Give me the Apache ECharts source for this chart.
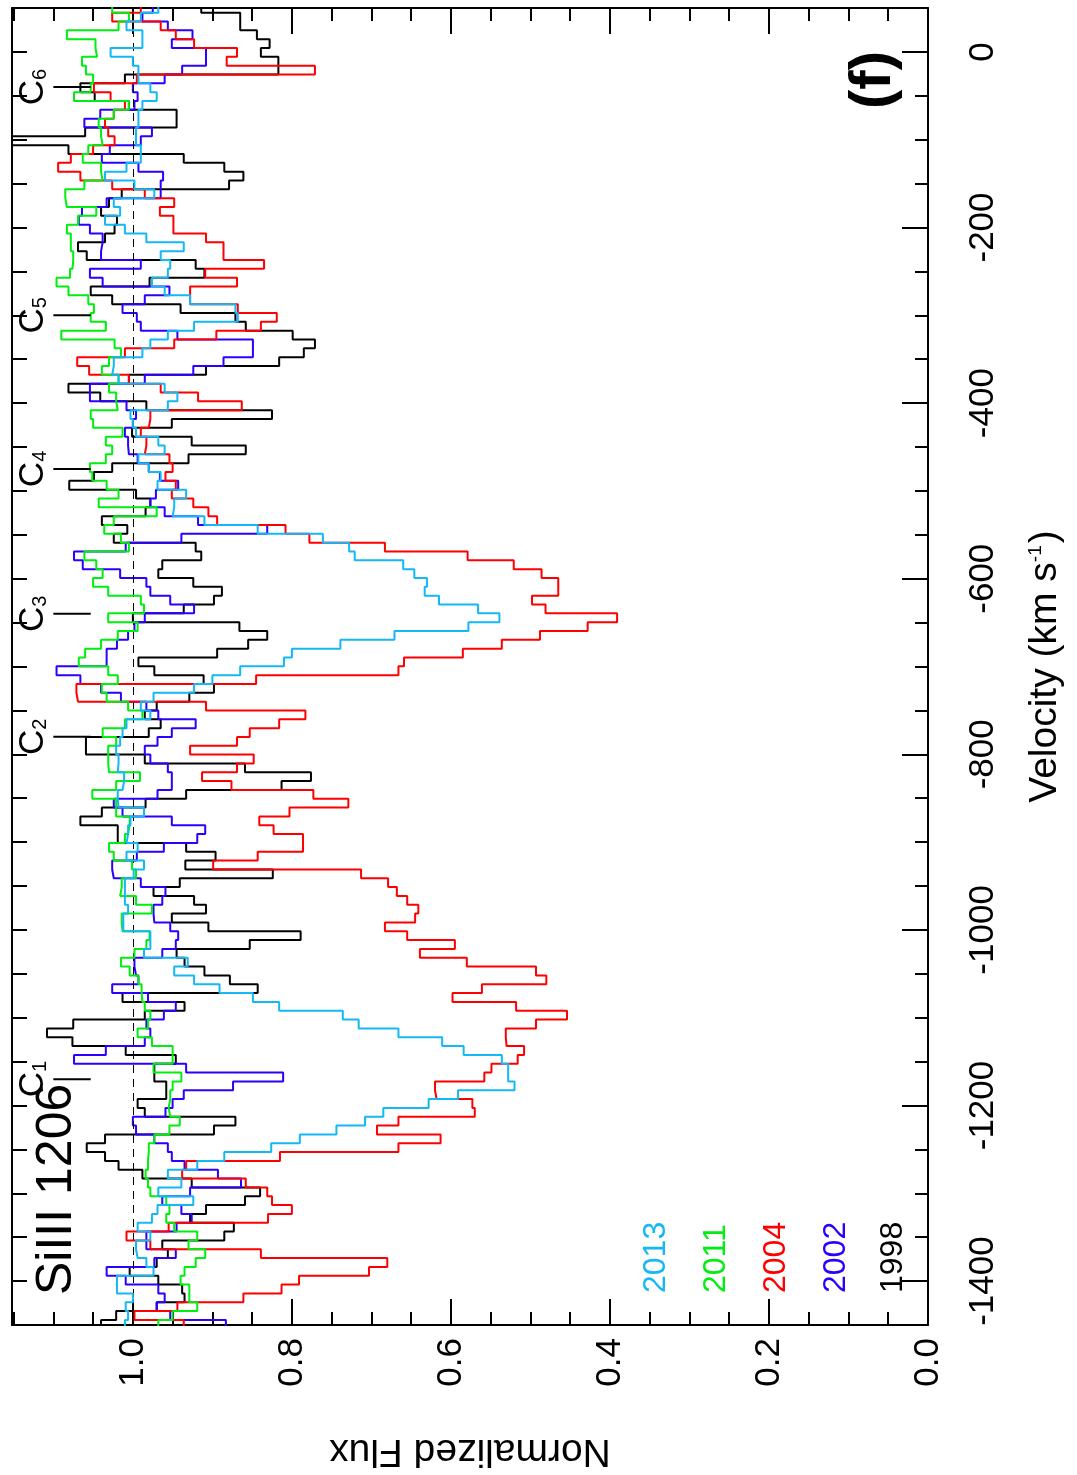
<!DOCTYPE html>
<html>
<head>
<meta charset="utf-8">
<script src="https://cdn.jsdelivr.net/npm/echarts@6/dist/echarts.min.js"></script>
<style>
  html, body { margin: 0; padding: 0; background: #ffffff; }
  #chart { width: 1077px; height: 1475px; }
</style>
</head>
<body>
<div id="chart"></div>
<script>
// Si III 1206 normalized flux per epoch, 10 km/s bins ordered from +50 km/s downward
const flux1998 = [
  0.914,0.865,0.865,0.844,0.828,0.839,0.817,0.817,1.010,1.066,1.048,1.005,0.945,0.945,1.060,1.170,1.081,0.936,0.885,0.861,0.879,1.014,1.030,1.040,1.020,
  1.023,1.035,1.069,1.058,0.921,0.910,0.979,1.053,1.026,0.940,0.871,0.858,0.799,0.771,0.785,0.816,0.908,1.005,1.081,1.041,0.983,0.825,0.951,1.001,0.926,
  0.858,0.930,1.026,1.049,1.080,0.996,0.978,0.984,1.039,1.007,1.024,0.921,0.914,0.963,0.968,0.924,0.888,0.898,0.936,1.000,0.866,0.831,0.855,0.894,0.993,
  0.973,0.911,0.898,0.929,0.970,0.985,0.965,0.980,1.059,1.059,0.985,0.859,0.776,0.813,0.933,0.984,1.039,1.066,1.019,1.019,0.933,0.896,0.934,0.824,0.941,
  0.974,0.923,0.908,0.951,0.905,0.789,0.853,0.945,0.935,0.910,0.878,0.843,1.013,0.935,0.985,1.075,1.108,1.076,1.009,0.946,0.973,0.973,0.958,0.958,0.994,
  0.985,0.871,0.898,1.035,1.058,1.035,1.018,0.988,0.926,0.840,0.859,0.908,0.928,0.873,0.885,0.963,0.956,0.970,1.004,0.968,0.938,0.935,0.970,1.021,1.040
];
const flux2002 = [
  0.975,0.988,0.956,0.925,0.951,0.908,0.908,0.938,0.960,1.000,0.994,0.998,1.041,1.061,0.976,0.990,1.029,1.039,0.993,0.962,0.965,0.965,1.033,1.064,1.068,
  1.054,1.038,1.040,1.040,0.990,1.054,1.038,0.954,0.985,1.013,0.995,0.990,0.944,0.849,0.849,0.886,0.924,0.985,1.054,1.054,1.008,0.996,1.000,1.010,1.006,
  1.005,0.994,0.980,0.966,0.943,0.971,0.978,0.960,0.918,0.831,0.939,1.009,1.074,1.063,1.016,0.983,0.978,0.953,0.923,0.985,0.998,1.006,1.020,1.033,1.033,
  1.096,1.066,1.040,1.015,0.983,0.968,0.921,0.951,0.969,0.985,0.978,0.956,0.951,0.951,0.969,1.024,1.013,0.951,0.909,0.919,0.961,0.995,1.026,1.024,0.990,
  0.959,0.963,0.974,0.973,0.953,0.943,0.946,0.963,0.998,0.996,0.993,1.026,0.981,0.946,0.961,0.983,0.978,0.985,1.034,1.074,0.933,0.811,0.874,0.936,0.950,
  0.959,1.000,0.996,0.973,0.956,0.951,0.935,0.893,0.864,0.928,0.963,0.939,0.926,0.945,0.983,0.983,0.946,0.973,1.033,1.009,0.968,0.960,0.970,0.953,0.883
];
const flux2004 = [
  0.990,1.026,0.965,0.946,0.923,0.869,0.882,0.771,0.995,1.049,1.028,1.010,1.024,1.035,1.031,1.023,1.050,1.078,1.094,1.066,1.026,0.985,0.948,0.966,0.949,
  0.949,0.908,0.886,0.886,0.835,0.909,0.869,0.928,0.928,0.868,0.819,0.839,0.895,0.948,1.010,1.070,1.055,1.005,0.965,0.918,0.863,0.978,0.980,0.990,0.983,
  0.985,0.954,0.950,0.959,0.946,0.951,0.924,0.905,0.894,0.808,0.778,0.683,0.579,0.521,0.486,0.465,0.465,0.498,0.481,0.391,0.428,0.488,0.536,0.585,0.659,
  0.666,0.845,1.071,1.069,0.908,0.783,0.816,0.853,0.869,0.928,0.848,0.869,0.913,0.876,0.773,0.729,0.803,0.841,0.823,0.786,0.786,0.843,0.899,0.713,0.679,
  0.668,0.655,0.641,0.645,0.683,0.655,0.595,0.639,0.580,0.493,0.480,0.561,0.598,0.518,0.454,0.493,0.531,0.530,0.508,0.516,0.549,0.558,0.620,0.618,0.573,
  0.570,0.666,0.693,0.613,0.666,0.815,0.933,0.938,0.858,0.831,0.825,0.800,0.830,0.955,1.008,0.978,0.839,0.680,0.703,0.791,0.813,0.861,0.944,0.998,0.936
];
const flux2011 = [
  1.026,1.005,1.018,1.083,1.047,1.045,1.064,1.059,1.050,1.053,1.074,1.005,1.024,1.043,1.040,1.038,1.056,1.063,1.040,1.038,1.061,1.085,1.083,1.046,1.069,
  1.083,1.078,1.078,1.075,1.076,1.079,1.096,1.081,1.056,1.049,1.053,1.034,1.090,1.023,1.015,1.030,1.039,1.018,1.030,1.021,1.019,1.053,1.050,1.013,1.034,
  1.026,1.034,1.054,1.051,1.033,1.018,1.043,0.970,1.024,1.036,1.015,1.005,1.061,1.046,1.038,1.050,1.031,0.990,0.986,1.031,0.994,1.019,1.040,1.060,1.068,
  1.031,1.019,1.039,1.033,1.006,0.988,1.010,1.038,1.021,1.031,1.031,1.030,0.991,1.021,1.051,1.021,1.021,1.004,1.006,1.010,1.030,1.024,1.001,0.996,1.014,
  1.016,0.996,0.976,1.014,1.013,0.979,0.983,0.998,1.015,1.004,0.993,0.989,0.988,0.985,0.978,0.981,0.994,0.976,0.950,0.950,0.974,0.939,0.950,0.953,0.955,
  0.953,0.941,0.954,0.973,0.980,0.981,0.981,0.984,0.981,0.978,0.958,0.954,0.958,0.948,0.919,0.930,0.909,0.921,0.935,0.940,0.929,0.929,0.919,0.950,0.968
];
const flux2013 = [
  0.968,0.990,1.008,0.988,0.988,1.028,1.000,0.993,0.993,0.978,0.970,0.988,0.993,0.993,0.996,0.996,0.990,0.990,1.008,1.035,0.998,0.973,1.024,1.016,1.035,
  1.010,0.983,0.936,0.965,0.953,0.956,0.976,0.960,0.928,0.871,0.868,0.923,0.956,0.978,0.988,1.024,1.026,1.018,0.960,0.944,0.956,1.003,1.000,0.996,0.968,
  0.960,0.993,0.980,0.965,0.969,0.933,0.948,0.950,0.910,0.843,0.761,0.728,0.721,0.660,0.646,0.630,0.633,0.615,0.566,0.539,0.578,0.671,0.739,0.800,0.810,
  0.865,0.900,0.923,0.974,0.990,0.978,1.008,1.013,1.016,1.021,1.018,1.019,1.011,1.013,1.019,1.018,0.986,1.003,1.006,1.008,0.994,1.008,0.986,0.999,1.010,
  1.010,1.010,1.006,1.012,1.012,0.978,0.978,0.986,0.931,0.948,0.923,0.891,0.849,0.816,0.736,0.716,0.666,0.611,0.584,0.536,0.528,0.528,0.520,0.591,0.628,
  0.685,0.708,0.744,0.790,0.826,0.885,0.919,0.956,0.939,0.968,0.924,0.969,0.976,0.994,0.978,0.996,0.994,0.983,0.974,1.020,1.020,1.000,1.009,1.006,1.010
];

// velocity bin grid (km/s): centre of the first bin and bin width
const binFirstCentre = 49.7;
const binWidth = 10.06;

// epochs, in drawing order
const epochs = ['1998', '2002', '2004', '2011', '2013'];
const epochColors = ['#000000', '#2a00ff', '#ff0000', '#00ee10', '#14b8f5'];
const epochFlux = [flux1998, flux2002, flux2004, flux2011, flux2013];

// legend order, top to bottom of the key
const keyOrder = ['2013', '2011', '2004', '2002', '1998'];

// kinematic components and their velocities
const componentNames = ['1', '2', '3', '4', '5', '6'];
const componentVel = [-1170, -780, -640, -475, -300, -40];
const componentMarkFlux = [1.053, 1.100];
const componentLabelFlux = 1.125;

// axis ticks
const fluxMajorTicks = [0.0, 0.2, 0.4, 0.6, 0.8, 1.0];
const velMajorTicks = [-1400, -1200, -1000, -800, -600, -400, -200, 0];
const fluxRange = [0, 1.152];
const velRange = [-1450, 50];
const fluxMinorStep = 0.05;
const velMinorStep = 50;

const fluxMinorTicks = [];
for (let f = fluxRange[0]; f <= fluxRange[1] + 1e-9; f += fluxMinorStep) fluxMinorTicks.push(+f.toFixed(2));
const velMinorTicks = [];
for (let v = velRange[0]; v <= velRange[1]; v += velMinorStep) velMinorTicks.push(v);

const FONT = '"Liberation Sans", Arial, Helvetica, sans-serif';

// histogram outline: each bin becomes a vertical segment spanning its velocity range
function stepOutline(fluxArr) {
  const pts = [];
  fluxArr.forEach(function (f, i) {
    const c = binFirstCentre - binWidth * i;
    pts.push([f, c + binWidth / 2]);
    pts.push([f, c - binWidth / 2]);
  });
  return pts;
}

const chart = echarts.init(document.getElementById('chart'), null, { renderer: 'canvas' });

const frameLine = { show: true, onZero: false, lineStyle: { color: '#000', width: 2 } };
const noLine = { show: false, onZero: false };
const tickLine = { color: '#000', width: 2 };

function fluxAxis(position, ticks, len, withLine, withLabels) {
  const ax = {
    type: 'value', position: position, min: fluxRange[0], max: fluxRange[1], inverse: true,
    axisLine: withLine ? frameLine : noLine,
    axisTick: { show: true, inside: true, length: len, customValues: ticks, lineStyle: tickLine },
    axisLabel: { show: false },
    splitLine: { show: false }, minorSplitLine: { show: false }
  };
  if (withLabels) {
    ax.axisLabel = {
      show: true, customValues: fluxMajorTicks, rotate: 90, margin: 13,
      formatter: function (v) { return v.toFixed(1); },
      fontSize: 35, fontFamily: FONT, color: '#000'
    };
    ax.name = 'Normalized Flux';
    ax.nameLocation = 'middle';
    ax.nameRotate = 180;
    ax.nameGap = 106;
    ax.nameTextStyle = { fontSize: 39, fontFamily: FONT, color: '#000' };
  }
  return ax;
}

function velAxis(position, ticks, len, withLine, withLabels) {
  const ax = {
    type: 'value', position: position, min: velRange[0], max: velRange[1],
    axisLine: withLine ? frameLine : noLine,
    axisTick: { show: true, inside: true, length: len, customValues: ticks, lineStyle: tickLine },
    axisLabel: { show: false },
    splitLine: { show: false }, minorSplitLine: { show: false }
  };
  if (withLabels) {
    ax.axisLabel = {
      show: true, customValues: velMajorTicks, rotate: 90, margin: 38,
      formatter: function (v) { return String(v); },
      fontSize: 35, fontFamily: FONT, color: '#000'
    };
    ax.name = 'Velocity (km s{sup|-1})';
    ax.nameLocation = 'middle';
    ax.nameRotate = 90;
    ax.nameGap = 98;
    ax.nameTextStyle = {
      fontSize: 39, fontFamily: FONT, color: '#000',
      rich: { sup: { fontSize: 19, fontFamily: FONT, color: '#000', verticalAlign: 'top', padding: [0, 2, 0, 0] } }
    };
  }
  return ax;
}

const series = epochs.map(function (year, k) {
  const s = {
    name: year, type: 'line', xAxisIndex: 0, yAxisIndex: 0,
    data: stepOutline(epochFlux[k]),
    symbol: 'none', showSymbol: false, clip: true, z: 3 + k,
    lineStyle: { color: epochColors[k], width: 2 },
    emphasis: { disabled: true }
  };
  if (k === 0) {
    s.markLine = {
      silent: true, symbol: 'none', animation: false,
      label: { show: false },
      lineStyle: { color: '#000', width: 1, type: [8, 6] },
      data: [{ xAxis: 1.0 }]
    };
  }
  return s;
});

// component markers: short tick plus rotated "C_n" label
series.push({
  type: 'custom', xAxisIndex: 0, yAxisIndex: 0, z: 10, silent: true,
  data: componentVel.map(function (v) { return [componentMarkFlux[0], v]; }),
  renderItem: function (params, api) {
    const v = api.value(1);
    const a = api.coord([componentMarkFlux[0], v]);
    const b = api.coord([componentMarkFlux[1], v]);
    const t = api.coord([componentLabelFlux, v]);
    return {
      type: 'group',
      children: [
        { type: 'line', shape: { x1: a[0], y1: a[1], x2: b[0], y2: b[1] }, style: { stroke: '#000', lineWidth: 2 } },
        {
          type: 'text', x: t[0], y: t[1], rotation: Math.PI / 2,
          style: {
            text: '{c|C}{s|' + componentNames[params.dataIndex] + '}',
            align: 'center', verticalAlign: 'middle',
            rich: {
              c: { fontSize: 35, fontFamily: FONT, fill: '#000' },
              s: { fontSize: 20, fontFamily: FONT, fill: '#000', verticalAlign: 'bottom' }
            }
          }
        }
      ]
    };
  }
});

const keyX = [656, 716, 776, 836, 893];
const graphic = keyOrder.map(function (year, i) {
  return {
    type: 'text', x: keyX[i], y: 1293, rotation: Math.PI / 2, z: 20,
    style: {
      text: year, fill: epochColors[epochs.indexOf(year)],
      font: '32px ' + FONT, align: 'left', verticalAlign: 'middle'
    }
  };
});
graphic.push({
  type: 'text', x: 57, y: 1295, rotation: Math.PI / 2, z: 20,
  style: { text: 'SiIII 1206', fill: '#000', font: '50px ' + FONT, align: 'left', verticalAlign: 'middle' }
});
graphic.push({
  type: 'text', x: 874, y: 80, rotation: Math.PI / 2, z: 20,
  style: { text: '(f)', fill: '#000', font: 'bold 58px ' + FONT, align: 'center', verticalAlign: 'middle' }
});

chart.setOption({
  animation: false,
  backgroundColor: '#ffffff',
  grid: { left: 12, top: 8, width: 916, height: 1317, containLabel: false },
  xAxis: [
    fluxAxis('bottom', fluxMajorTicks, 26, true, true),
    fluxAxis('bottom', fluxMinorTicks, 13, false, false),
    fluxAxis('top', fluxMajorTicks, 26, true, false),
    fluxAxis('top', fluxMinorTicks, 13, false, false)
  ],
  yAxis: [
    velAxis('right', velMajorTicks, 26, true, true),
    velAxis('right', velMinorTicks, 13, false, false),
    velAxis('left', velMinorTicks, 15, true, false)
  ],
  series: series,
  graphic: graphic
});
</script>
</body>
</html>
